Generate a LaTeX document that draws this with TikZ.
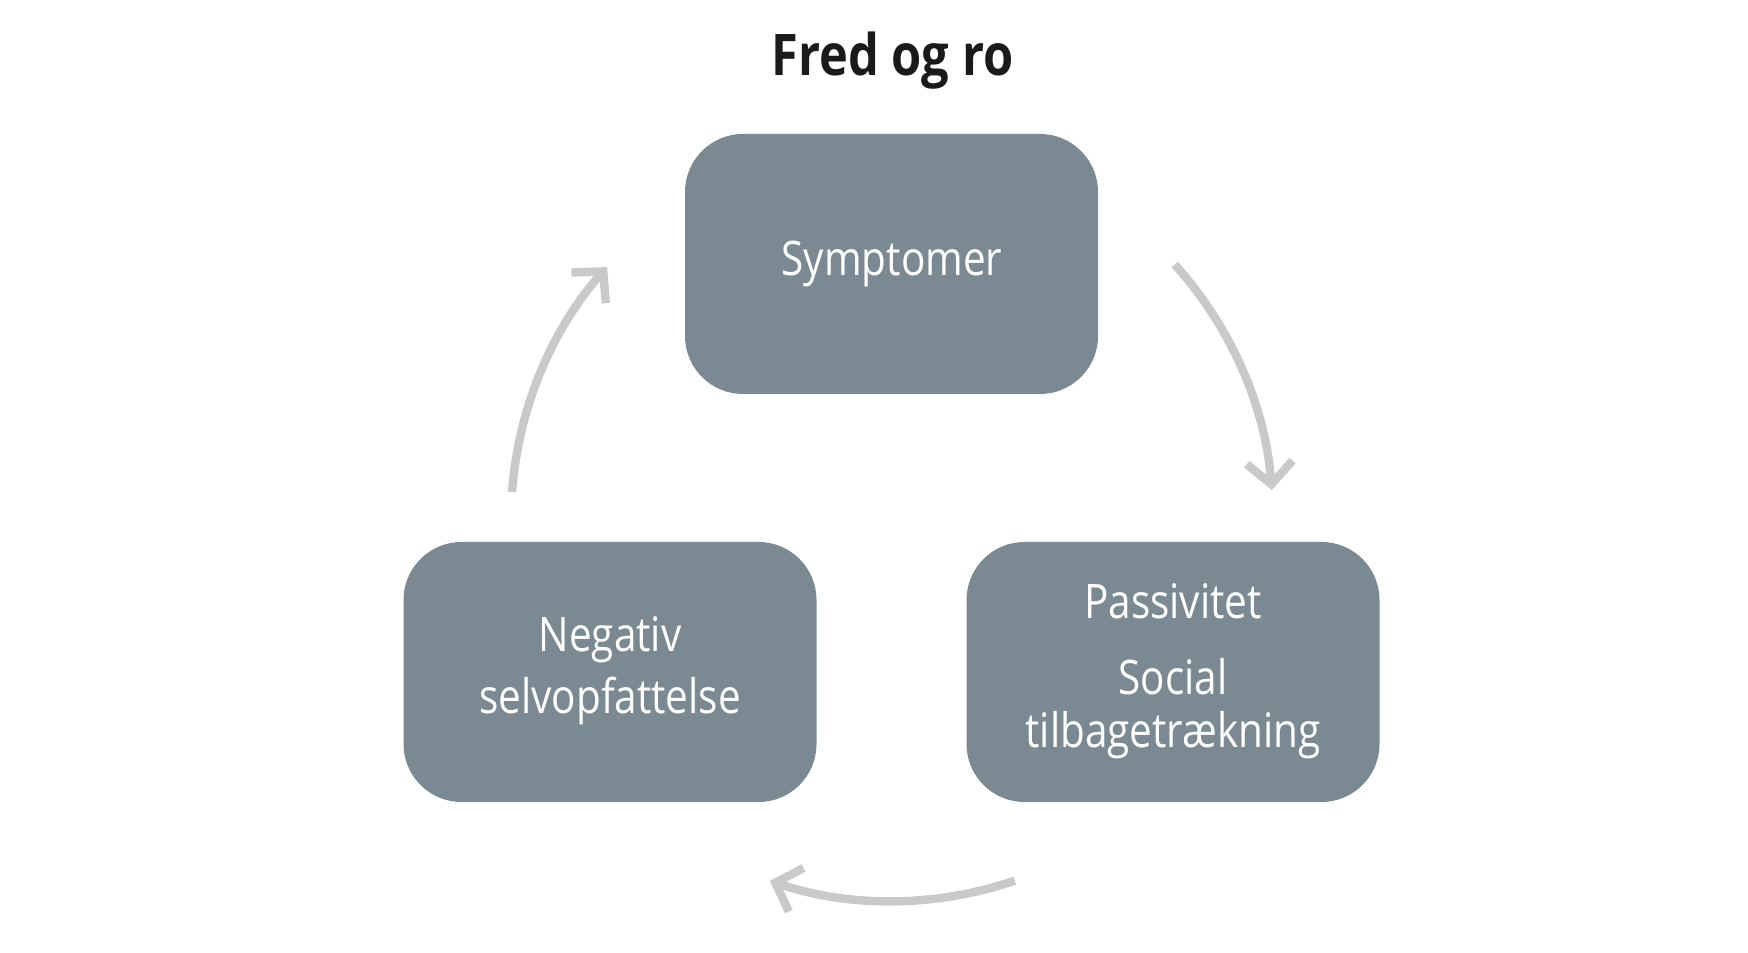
\documentclass[tikz,border=0pt]{standalone}
\usepackage{fontspec}
\usetikzlibrary{arrows.meta,calc}
\newfontfamily\condfont[FakeStretch=0.85]{Open Sans}
\definecolor{boxgray}{HTML}{7B8A92}
\definecolor{arrgray}{HTML}{C8C9CB}
\definecolor{titleblack}{HTML}{1A1A1A}
\begin{document}
\begin{tikzpicture}[x=0.5pt,y=0.5pt,
  stepbox/.style={draw=none, fill=boxgray, rounded corners=29pt, minimum width=206.5pt, minimum height=130pt, inner sep=0pt},
  lbl/.style={text=white, font=\condfont\fontsize{23.8}{26}\selectfont, inner sep=0pt, anchor=base},
  arr/.style={draw=arrgray, line width=4.2pt, line join=miter, -{Straight Barb[length=11pt, width=23pt, line join=miter]}}]
\useasboundingbox (0,0) rectangle (1748,952);
% title
\node[font=\condfont\bfseries\fontsize{28.7}{32}\selectfont, text=titleblack, inner sep=0pt, anchor=base] (title) at (892.5,{952-76}) {Fred og ro};
% boxes
\node[stepbox] (top) at (891.5,{952-264}) {};
\node[stepbox] (left) at (610,{952-672}) {};
\node[stepbox] (right) at (1173,{952-672}) {};
% texts
\node[lbl] (t1) at (892,{952-276}) {Symptomer};
\node[lbl] (l1) at (610,{952-652}) {Negativ};
\node[lbl] (l2) at (610,{952-714}) {selvopfattelse};
\node[lbl] (r1) at (1173,{952-619}) {Passivitet};
\node[lbl] (r2) at (1173,{952-695}) {Social};
\node[lbl] (r3) at (1173,{952-748}) {tilbagetrækning};
% cycle arrows
\coordinate (c) at (892,{952-520});
\coordinate (a1) at ($(c)+(42.1:381)$);
\coordinate (a2) at ($(c)+(-71.2:381)$);
\coordinate (a3) at ($(c)+(175.8:381)$);
\draw[arr] (a1) arc[start angle=42.1, end angle=4.5, radius=381];
\draw[arr] (a2) arc[start angle=-71.2, end angle=-108.7, radius=381];
\draw[arr] (a3) arc[start angle=175.8, end angle=138.4, radius=381];
\end{tikzpicture}
\end{document}
